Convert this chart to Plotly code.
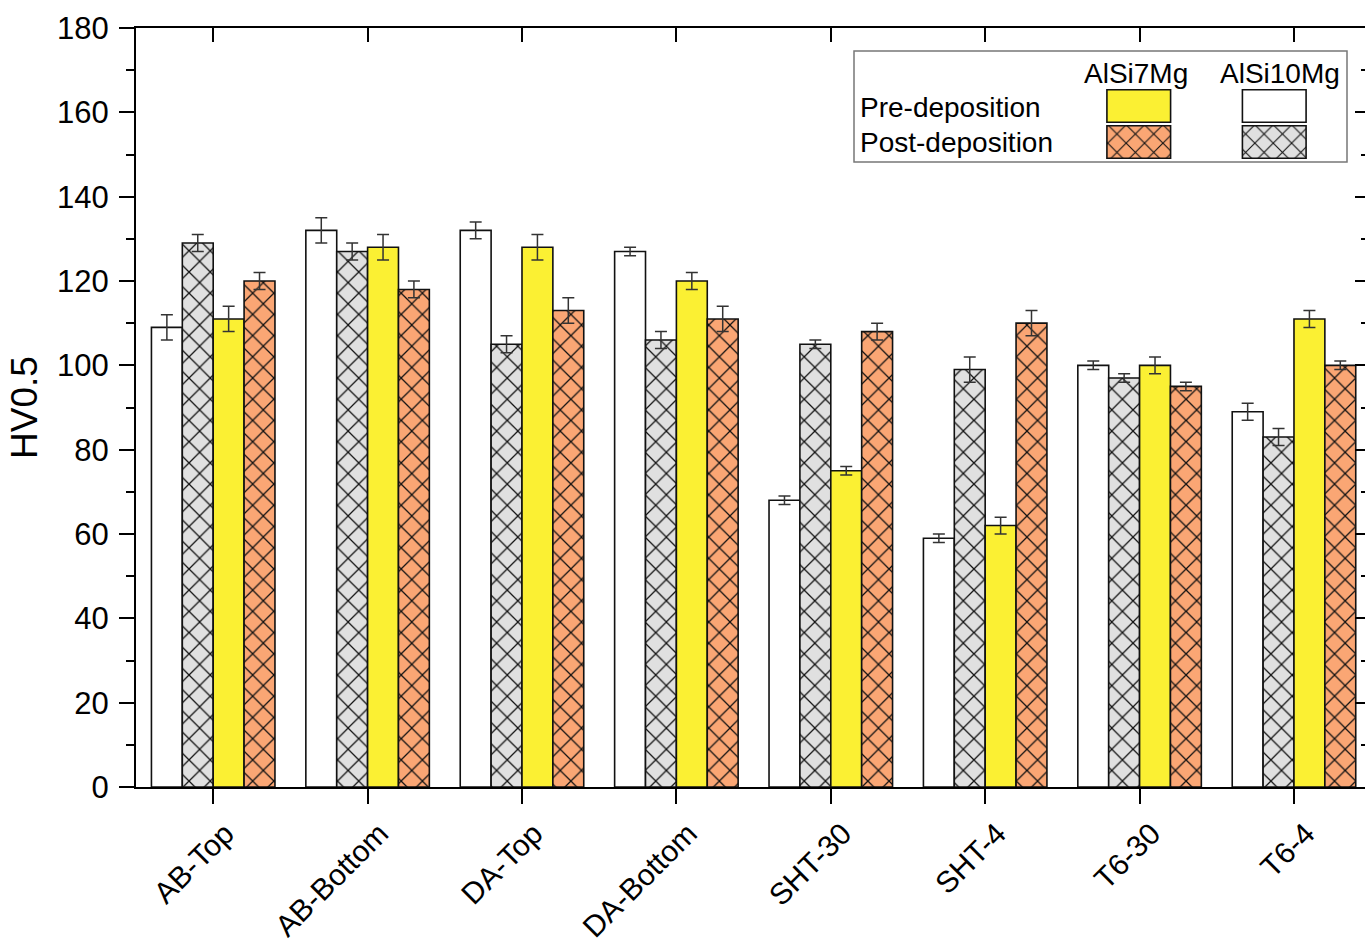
import plotly.graph_objects as go

# ---------------- data ----------------
categories = ["AB-Top", "AB-Bottom", "DA-Top", "DA-Bottom", "SHT-30", "SHT-4", "T6-30", "T6-4"]

alsi10_pre = [109, 132, 132, 127, 68, 59, 100, 89]
alsi10_pre_err = [3, 3, 2, 1, 1, 1, 1, 2]
alsi10_post = [129, 127, 105, 106, 105, 99, 97, 83]
alsi10_post_err = [2, 2, 2, 2, 1, 3, 1, 2]
alsi7_pre = [111, 128, 128, 120, 75, 62, 100, 111]
alsi7_pre_err = [3, 3, 3, 2, 1, 2, 2, 2]
alsi7_post = [120, 118, 113, 111, 108, 110, 95, 100]
alsi7_post_err = [2, 2, 3, 3, 2, 3, 1, 1]

alloys = ["AlSi7Mg", "AlSi10Mg"]
states = ["Pre-deposition", "Post-deposition"]

y_ticks = [0, 20, 40, 60, 80, 100, 120, 140, 160, 180]

# ---------------- style ----------------
FONT = "Arial, Liberation Sans, sans-serif"
W, H = 1365, 945
ML, MR, MT, MB = 136, 0, 28, 158
YELLOW = "#FBF033"
ORANGE = "#FAA674"
GREY = "#E0E0E0"
WHITE = "#FFFFFF"
XR = [-0.5, len(categories) - 0.54]

def px_x(p):
    return (p - ML) / (W - ML - MR)

def px_y(p):
    return (H - MB - p) / (H - MT - MB)

def err(a):
    return dict(type="data", array=a, visible=True, color="#333333", thickness=1.5, width=6)

hatch = lambda bg: dict(shape="x", fgcolor="#111111", bgcolor=bg, size=15, solidity=0.16, fillmode="replace")

fig = go.Figure()

series = [
    (alsi10_pre, alsi10_pre_err, WHITE, None),
    (alsi10_post, alsi10_post_err, GREY, hatch(GREY)),
    (alsi7_pre, alsi7_pre_err, YELLOW, None),
    (alsi7_post, alsi7_post_err, ORANGE, hatch(ORANGE)),
]
for vals, e, col, pat in series:
    marker = dict(color=col, line=dict(color="#111111", width=1.6))
    if pat:
        marker["pattern"] = pat
    fig.add_trace(go.Bar(x=categories, y=vals, error_y=err(e), marker=marker,
                         showlegend=False, hoverinfo="skip"))

# ---------------- legend swatches (inset axes) ----------------
leg = [
    ("AlSi7Mg", 1.05, YELLOW, None),
    ("AlSi7Mg", 0.05, ORANGE, hatch(ORANGE)),
    ("AlSi10Mg", 1.05, WHITE, None),
    ("AlSi10Mg", 0.05, GREY, hatch(GREY)),
]
for a, b, col, pat in leg:
    marker = dict(color=col, line=dict(color="#111111", width=1.6))
    if pat:
        marker["pattern"] = dict(pat, size=13)
    fig.add_trace(go.Bar(x=[a], y=[0.9], base=[b], width=[0.47], offset=-0.235,
                         marker=marker, xaxis="x3", yaxis="y3",
                         showlegend=False, hoverinfo="skip"))

axis_common = dict(linecolor="black", linewidth=2, showgrid=False, zeroline=False, automargin=False)

fig.update_layout(
    width=W, height=H,
    margin=dict(l=ML, r=MR, t=MT, b=MB, pad=0, autoexpand=False),
    paper_bgcolor="white", plot_bgcolor="white",
    font=dict(family=FONT, size=30, color="black"),
    barmode="group", bargap=0.2, bargroupgap=0,
    xaxis=dict(axis_common, type="category", range=XR, showline=True,
               ticks="outside", ticklen=15, tickwidth=2, tickcolor="black",
               tickangle=-45, tickfont=dict(size=30), ticklabelshift=12),
    yaxis=dict(axis_common, range=[0, 180], tickvals=y_ticks, showline=True,
               ticks="outside", ticklen=15, tickwidth=2, tickcolor="black",
               minor=dict(dtick=10, ticks="outside", ticklen=8, tickwidth=2, tickcolor="black"),
               tickfont=dict(size=31), ticklabelstandoff=4,
               title=dict(text="HV0.5", font=dict(size=37), standoff=8)),
    xaxis2=dict(axis_common, overlaying="x", side="top", anchor="y", type="linear",
                range=XR, tickvals=list(range(len(categories))), showticklabels=False,
                showline=True, ticks="inside", ticklen=14, tickwidth=2, tickcolor="black"),
    yaxis2=dict(axis_common, overlaying="y", side="right", anchor="x", range=[0, 180],
                tickvals=y_ticks, showticklabels=False, showline=False,
                ticks="inside", ticklen=10, tickwidth=2, tickcolor="black",
                minor=dict(dtick=10, ticks="inside", ticklen=4, tickwidth=2, tickcolor="black")),
    xaxis3=dict(domain=[px_x(1071), px_x(1342)], anchor="y3", type="category",
                categoryorder="array", categoryarray=alloys, range=[-0.5, 1.5],
                showticklabels=False, showline=False, showgrid=False, zeroline=False, fixedrange=True),
    yaxis3=dict(domain=[px_y(160), px_y(88)], anchor="x3", range=[0, 2],
                showticklabels=False, showline=False, showgrid=False, zeroline=False, fixedrange=True),
)

# invisible anchors so overlay axes are drawn
fig.add_trace(go.Scatter(x=[0], y=[0], xaxis="x2", yaxis="y2", mode="markers",
                         marker=dict(opacity=0), showlegend=False, hoverinfo="skip"))

# legend box
fig.add_shape(type="rect", xref="paper", yref="paper",
              x0=px_x(854), x1=px_x(1347), y0=px_y(162), y1=px_y(51),
              line=dict(color="#777777", width=1.5), fillcolor="rgba(0,0,0,0)", layer="below")

# legend texts
LF = 28
fig.add_annotation(x=px_x(1136), y=px_y(74), xref="paper", yref="paper", text=alloys[0],
                   showarrow=False, xanchor="center", yanchor="middle", font=dict(size=LF))
fig.add_annotation(x=px_x(1280), y=px_y(74), xref="paper", yref="paper", text=alloys[1],
                   showarrow=False, xanchor="center", yanchor="middle", font=dict(size=LF))
fig.add_annotation(x=px_x(858), y=px_y(107), xref="paper", yref="paper", text=states[0],
                   showarrow=False, xanchor="left", yanchor="middle", font=dict(size=LF))
fig.add_annotation(x=px_x(858), y=px_y(142), xref="paper", yref="paper", text=states[1],
                   showarrow=False, xanchor="left", yanchor="middle", font=dict(size=LF))

fig.write_html("out.html")
